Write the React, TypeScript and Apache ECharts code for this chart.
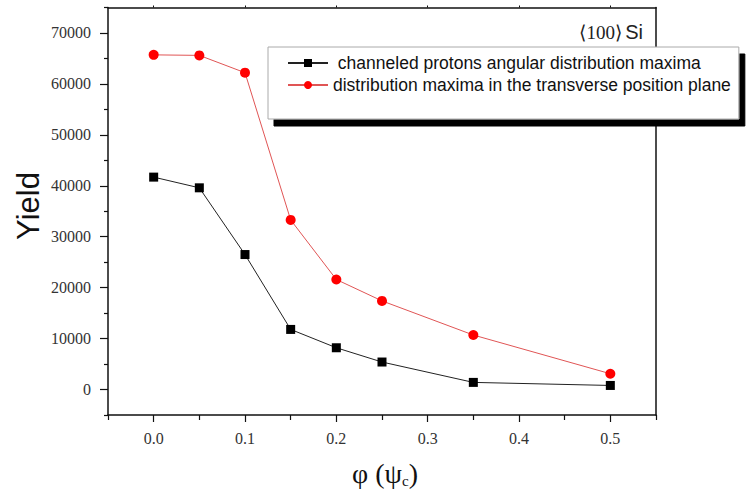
import React, { useEffect, useRef } from "react";
import * as echarts from "echarts";

const phi = [0.0, 0.05, 0.1, 0.15, 0.2, 0.25, 0.35, 0.5];
const angularMaxima = [41700, 39600, 26500, 11800, 8200, 5400, 1400, 800];
const positionMaxima = [65700, 65600, 62200, 33300, 21600, 17400, 10700, 3100];
const seriesNames = [
  " channeled protons angular distribution maxima",
  "distribution maxima in the transverse position plane",
];
const xMajorTicks = [0.0, 0.1, 0.2, 0.3, 0.4, 0.5];
const xMinorTicks = [-0.05, 0.05, 0.15, 0.25, 0.35, 0.45, 0.55];
const yMajorTicks = [0, 10000, 20000, 30000, 40000, 50000, 60000, 70000];
const yMinorTicks = [-5000, 5000, 15000, 25000, 35000, 45000, 55000, 65000, 75000];

export default function App() {
  const ref = useRef<HTMLDivElement>(null);
  useEffect(() => {
    document.body.style.margin = "0";
    const chart = echarts.init(ref.current!, null, { renderer: "svg" });
    const serif = "'Liberation Serif', 'Times New Roman', serif";
    const sans = "'Liberation Sans', Arial, sans-serif";
    const lineC = "#111";
    const option: any = {
      animation: false,
      backgroundColor: "#fff",
      grid: { left: 108, top: 7.5, right: 99, bottom: 81, containLabel: false },
      xAxis: [
        {
          type: "value",
          min: -0.05,
          max: 0.55,
          position: "bottom",
          axisLine: { show: true, onZero: false, lineStyle: { color: lineC, width: 1.5 } },
          axisTick: { show: true, customValues: xMajorTicks, length: 7, lineStyle: { color: lineC, width: 1.2 } },
          axisLabel: {
            customValues: xMajorTicks,
            formatter: (v: number) => v.toFixed(1),
            fontFamily: serif,
            fontSize: 16,
            color: "#333",
            margin: 15,
          },
          splitLine: { show: false },
        },
        {
          type: "value",
          min: -0.05,
          max: 0.55,
          position: "bottom",
          axisLine: { show: false, onZero: false },
          axisTick: { show: true, customValues: xMinorTicks, length: 5, lineStyle: { color: lineC, width: 1.2 } },
          axisLabel: { show: false },
          splitLine: { show: false },
        },
        {
          type: "value",
          min: -0.05,
          max: 0.55,
          position: "top",
          axisLine: { show: true, onZero: false, lineStyle: { color: lineC, width: 1.5 } },
          axisTick: { show: true, customValues: xMajorTicks, length: 2, lineStyle: { color: lineC } },
          axisLabel: { show: false },
          splitLine: { show: false },
        },
      ],
      yAxis: [
        {
          type: "value",
          min: -5000,
          max: 75000,
          position: "left",
          axisLine: { show: true, onZero: false, lineStyle: { color: lineC, width: 1.5 } },
          axisTick: { show: true, customValues: yMajorTicks, length: 8, lineStyle: { color: lineC, width: 1.2 } },
          axisLabel: {
            customValues: yMajorTicks,
            formatter: (v: number) => String(v),
            fontFamily: serif,
            fontSize: 16,
            color: "#333",
            margin: 17,
          },
          splitLine: { show: false },
        },
        {
          type: "value",
          min: -5000,
          max: 75000,
          position: "left",
          axisLine: { show: false, onZero: false },
          axisTick: { show: true, customValues: yMinorTicks, length: 4, lineStyle: { color: lineC, width: 1.2 } },
          axisLabel: { show: false },
          splitLine: { show: false },
        },
        {
          type: "value",
          min: -5000,
          max: 75000,
          position: "right",
          axisLine: { show: true, onZero: false, lineStyle: { color: lineC, width: 1.5 } },
          axisTick: { show: false },
          axisLabel: { show: false },
          splitLine: { show: false },
        },
      ],
      legend: {
        orient: "vertical",
        left: 268,
        top: 47,
        padding: [7, 8, 25, 19],
        itemWidth: 40,
        itemHeight: 10,
        itemGap: 4,
        backgroundColor: "#fff",
        borderColor: "#aaa",
        borderWidth: 1,
        shadowColor: "#000",
        shadowBlur: 0,
        shadowOffsetX: 6,
        shadowOffsetY: 7,
        textStyle: { fontFamily: sans, fontSize: 17.5, color: "#111" },
        data: seriesNames,
      },
      graphic: [
        {
          type: "text",
          right: 112,
          top: 22,
          style: {
            text: "{a|⟨100⟩} {b|Si}",
            rich: {
              a: { fontFamily: serif, fontSize: 19, fill: "#222" },
              b: { fontFamily: sans, fontSize: 20, fill: "#222" },
            },
          },
        },
        {
          type: "text",
          x: 28,
          y: 206,
          rotation: Math.PI / 2,
          style: {
            text: "Yield",
            fontFamily: sans,
            fontSize: 31,
            fill: "#111",
            align: "center",
            verticalAlign: "middle",
          },
        },
        {
          type: "text",
          x: 385,
          y: 473,
          style: {
            text: "{m|φ (ψ}{s|c}{m|)}",
            align: "center",
            verticalAlign: "middle",
            rich: {
              m: { fontFamily: serif, fontSize: 28, fill: "#111" },
              s: { fontFamily: serif, fontSize: 15, fill: "#111", padding: [16, 0, 0, 0] },
            },
          },
        },
      ],
      series: [
        {
          name: seriesNames[0],
          type: "line",
          xAxisIndex: 0,
          yAxisIndex: 0,
          data: phi.map((x, i) => [x, angularMaxima[i]]),
          symbol: "rect",
          symbolSize: 9,
          itemStyle: { color: "#000" },
          lineStyle: { color: "#222", width: 1 },
          z: 3,
        },
        {
          name: seriesNames[1],
          type: "line",
          xAxisIndex: 0,
          yAxisIndex: 0,
          data: phi.map((x, i) => [x, positionMaxima[i]]),
          symbol: "circle",
          symbolSize: 10,
          itemStyle: { color: "#ff0000" },
          lineStyle: { color: "#e05555", width: 1 },
          z: 3,
        },
      ],
    };
    chart.setOption(option);
    return () => chart.dispose();
  }, []);
  return <div ref={ref} style={{ width: 755, height: 496 }} />;
}
